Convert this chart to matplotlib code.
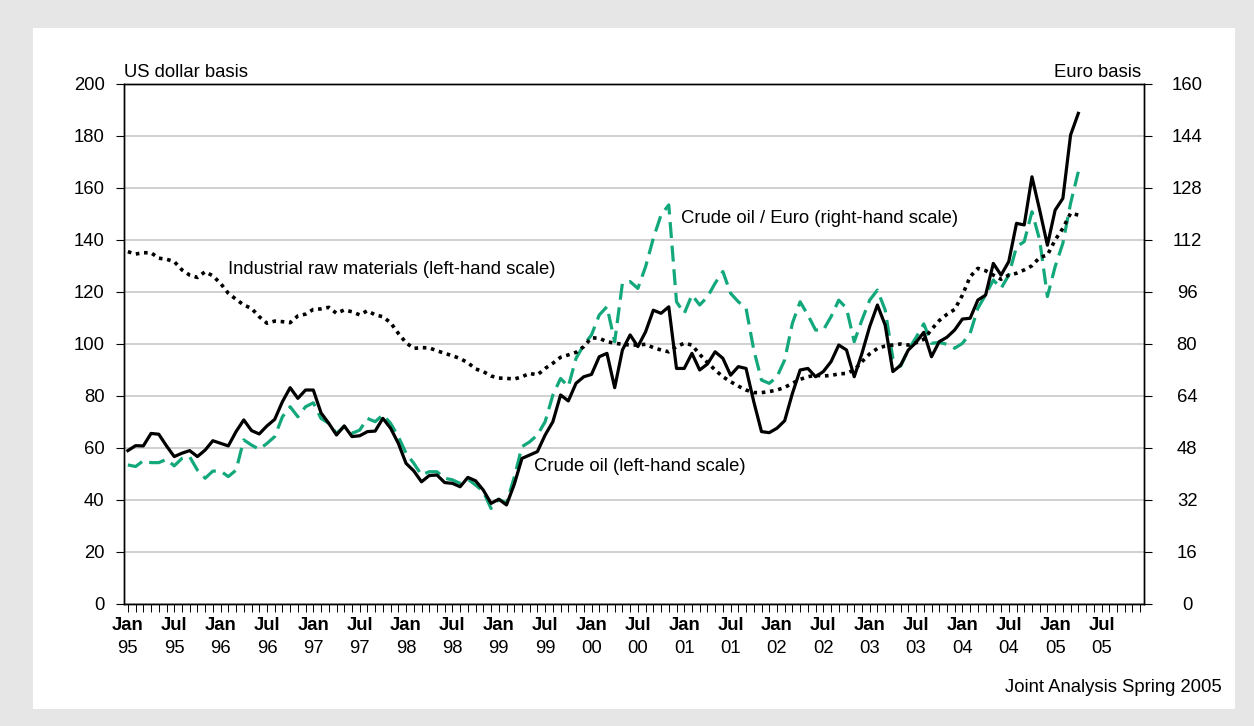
import matplotlib
matplotlib.use("Agg")
import matplotlib.pyplot as plt
from matplotlib.patches import Rectangle

plt.rcParams["font.family"] = ["Liberation Sans", "DejaVu Sans"]
FS = 13.3
plt.rcParams["font.size"] = FS

# monthly, Jan 1995 .. Apr 2005
crude_usd = [
    59, 60.9, 60.8, 65.6, 65.3, 60.8, 56.7, 58, 59, 56.7, 59.2, 62.8,
    61.8, 60.8, 66.3, 70.8, 66.7, 65.4, 68.5, 71, 77.8, 83.2, 79.1, 82.3,
    82.3, 73.5, 69.5, 65, 68.5, 64.4, 64.7, 66.3, 66.5, 71.4, 67.6, 61.8,
    54.1, 51.2, 47, 49.4, 49.6, 46.7, 46.4, 45.1, 48.7, 47.4, 43.8, 38.7,
    40.3, 38.1, 46, 56, 57.3, 58.6, 65, 70.1, 80.4, 78.1, 84.9, 87.4,
    88.3, 95.1, 96.4, 83.2, 97.7, 103.5, 99, 104.7, 113, 111.8, 114.3, 90.6,
    90.6, 96.4, 90, 92.3, 97, 94.5, 88, 91.3, 90.6, 77.8, 66.3, 65.9,
    67.6, 70.5, 81, 90, 90.6, 87.4, 89.4, 93.2, 99.6, 97.7, 87.4, 96.4,
    106.7, 115, 107.3, 89.4, 91.8, 97.7, 100.6, 104.5, 95.1, 100.9, 102.6, 105.4,
    109.6, 109.9, 116.9, 118.8, 131, 126.5, 131.7, 146.4, 145.8, 164.3, 151.5, 138,
    151.5, 156, 180.4, 188.7,
]
crude_eur = [
    42.8, 42.3, 44.1, 43.5, 43.5, 44.5, 42.5, 44.8, 45.3, 41.2, 38.7, 40.9,
    40.9, 39.2, 41.2, 50.5, 48.9, 47.6, 49.4, 51.5, 57.6, 60.7, 57.6, 60.7,
    61.9, 57.1, 55.6, 52.5, 54.6, 52.5, 53.5, 57.1, 56.1, 58.2, 55.6, 51.5,
    46.4, 43.3, 39.7, 40.7, 40.7, 38.7, 38.2, 37.1, 38.4, 36.6, 34.6, 29.4,
    32.2, 31, 39, 48.4, 49.9, 52, 56.1, 64.3, 69.4, 66.9, 75.6, 79.7,
    82.8, 88.9, 91.5, 80.7, 98.7, 99.2, 97.1, 103.8, 112.5, 119.7, 122.8, 93,
    89.4, 95.1, 92, 94.5, 98.7, 102.3, 95.6, 93, 91, 78.2, 68.9, 67.9,
    69.9, 75.1, 86.4, 93, 88.9, 84.3, 84.3, 88.4, 93.5, 91, 80.7, 87.4,
    93.5, 96.6, 90.5, 75.6, 73.2, 78.2, 82, 86.2, 80.2, 80.5, 79.9, 78.7,
    80.2, 83.3, 91, 95.1, 99.7, 97.1, 101.2, 109.9, 111.5, 120.7, 112, 94.6,
    103.8, 111, 123.3, 133,
]
industrial = [
    135.5, 134.6, 135.1, 135.1, 133, 132.6, 131.7, 128.5, 126.5, 125.6, 127.8, 126.2,
    123.3, 119.5, 117.2, 115, 113.7, 110.5, 108, 108.8, 108.6, 108.2, 110.8, 111.5,
    113.3, 113.5, 114.1, 111.8, 113.1, 112.4, 111.2, 112.8, 111.2, 110.5, 108.2, 104.1,
    100.5, 98.3, 98.6, 98.5, 97.4, 96.4, 95.5, 94.4, 92.8, 90.4, 89.4, 87.7,
    86.9, 86.8, 86.5, 87.4, 88.7, 88.1, 90.6, 92.6, 94.9, 95.8, 96.8, 99,
    102.4, 102.2, 100.9, 100.3, 99.9, 99.6, 99.6, 99.9, 98.6, 97.7, 97, 99,
    100.3, 99.6, 96, 92.9, 90, 87.4, 85.5, 83.8, 82.3, 81.3, 81.3, 81.7,
    82.3, 83.3, 84.9, 86.4, 87.4, 88, 87.7, 87.9, 88.5, 88.7, 90, 93.2,
    96.2, 98.3, 99.2, 99.6, 100, 99.6, 100.5, 101.8, 105.6, 109, 111.4, 113.3,
    118.8, 125.9, 129.1, 128.2, 126.5, 124.9, 126.5, 127.2, 128.5, 130.1, 133.3, 134.2,
    140, 144.5, 150.3, 149.6,
]
months = list(range(len(crude_usd)))

n_ticks = 132
month_names = ["Jan", "Jul"]
years = ["95", "96", "97", "98", "99", "00", "01", "02", "03", "04", "05"]
left_ticks = list(range(0, 201, 20))
right_ticks = list(range(0, 161, 16))

GREEN = "#12a87c"

fig = plt.figure(figsize=(12.54, 7.26), dpi=100)
fig.patch.set_facecolor("#e6e6e6")
fig.patches.append(Rectangle((33 / 1254, 1 - 709 / 726), 1202 / 1254, 681 / 726,
                             transform=fig.transFigure, facecolor="white",
                             edgecolor="none", zorder=-5))

ax = fig.add_axes([124 / 1254, 1 - 604 / 726, 1020 / 1254, 520 / 726])
ax2 = ax.twinx()
ax2.set_zorder(1)
ax.set_zorder(2)
ax.patch.set_visible(False)

# right axis (bottom layer): grid + euro line
ax2.set_ylim(0, 160)
ax2.set_yticks(right_ticks)
ax2.set_yticklabels([str(t) for t in right_ticks], ha="center")
ax2.yaxis.grid(True, color="#c8c8c8", lw=1.2)
ax2.set_axisbelow(True)
ax2.tick_params(axis="y", direction="out", length=6, width=0.8, pad=25,
                labelsize=FS)
ax2.plot(months, crude_eur, color=GREEN, lw=2.3, dashes=(5, 2.4), zorder=2)

# left axis (top layer)
ax.plot(months, industrial, color="black", lw=2.6, dashes=(1, 1.3), zorder=3)
ax.plot(months, crude_usd, color="black", lw=2.3, zorder=4)
ax.set_ylim(0, 200)
ax.set_yticks(left_ticks)
ax.tick_params(axis="y", direction="out", length=6, width=0.8, pad=8,
               labelsize=FS)

ax.set_xlim(-0.5, 131.5)
ax.set_xticks(range(n_ticks))
ax.tick_params(axis="x", direction="out", length=6, width=0.7,
               labelbottom=False)
ax2.tick_params(axis="x", length=0)

for a in (ax, ax2):
    for s in a.spines.values():
        s.set_linewidth(1.0)
        s.set_color("black")

tr = ax.get_xaxis_transform()
for i, m in enumerate(range(0, n_ticks, 6)):
    ax.text(m, -0.042, month_names[i % 2], transform=tr, ha="center",
            va="center", fontweight="bold", fontsize=FS)
    ax.text(m, -0.085, years[i // 2], transform=tr, ha="center",
            va="center", fontsize=FS)

ax.text(0, 1.023, "US dollar basis", transform=ax.transAxes, ha="left",
        va="center", fontsize=FS)
ax.text(0.997, 1.023, "Euro basis", transform=ax.transAxes, ha="right",
        va="center", fontsize=FS)
ax.text(13, 128.8, "Industrial raw materials (left-hand scale)", ha="left",
        va="center", fontsize=FS)
ax.text(71.6, 148.1, "Crude oil / Euro (right-hand scale)", ha="left",
        va="center", fontsize=FS)
ax.text(52.5, 52.7, "Crude oil (left-hand scale)", ha="left", va="center",
        fontsize=FS)
fig.text(1222 / 1254, 1 - 688 / 726, "Joint Analysis Spring 2005", ha="right",
         va="center", fontsize=FS)

fig.savefig("out.png", dpi=100, facecolor=fig.get_facecolor())
